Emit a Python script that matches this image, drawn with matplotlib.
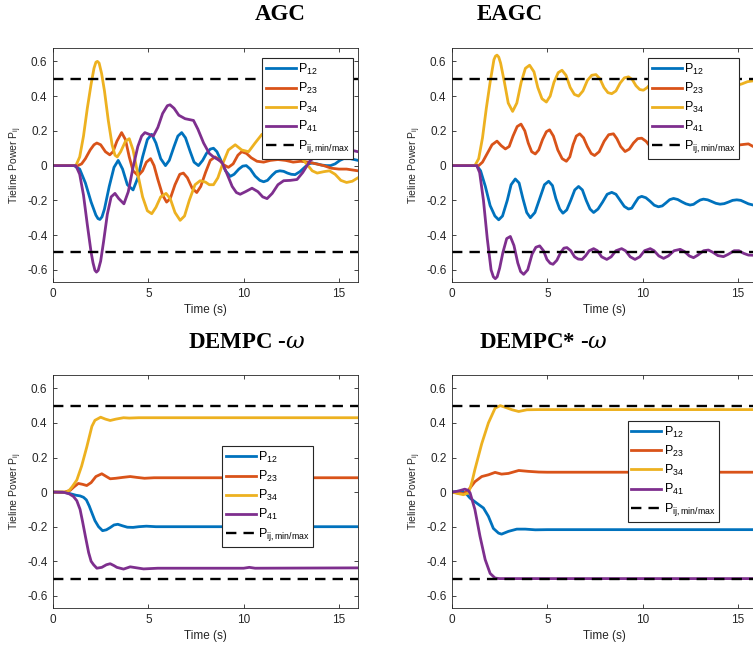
import matplotlib.pyplot as plt

plt.rcParams['font.family'] = ['Liberation Sans', 'DejaVu Sans']
plt.rcParams['axes.unicode_minus'] = False

# MATLAB default colours
colors = ['#0072BD', '#D95319', '#EDB120', '#7E2F8E']
labels = [r'$\mathregular{P_{12}}$', r'$\mathregular{P_{23}}$',
          r'$\mathregular{P_{34}}$', r'$\mathregular{P_{41}}$',
          r'$\mathregular{P_{ij,min/max}}$']
limits = [0.5, -0.5]
yticks = [-0.6, -0.4, -0.2, 0, 0.2, 0.4, 0.6]
ytick_labels = ['-0.6', '-0.4', '-0.2', '0', '0.2', '0.4', '0.6']
xticks = [0, 5, 10, 15]
titles = ['AGC', 'EAGC', r'DEMPC -$\omega$', r'DEMPC* -$\omega$']

# ---- AGC (t, value)
agc_p12 = [(0, 0), (1.1, 0), (1.4, -0.02), (1.7, -0.1), (2.0, -0.21), (2.25, -0.285), (2.36, -0.305),
           (2.46, -0.31), (2.57, -0.295), (2.7, -0.25), (2.95, -0.12), (3.2, -0.01), (3.42, 0.03),
           (3.65, -0.02), (3.9, -0.11), (4.2, -0.14), (4.45, -0.07), (4.7, 0.05), (4.95, 0.15),
           (5.18, 0.18), (5.4, 0.13), (5.65, 0.04), (5.9, 0.0), (6.1, 0.03), (6.35, 0.11), (6.55, 0.17),
           (6.75, 0.19), (6.95, 0.16), (7.2, 0.08), (7.4, 0.02), (7.63, 0.0), (7.85, 0.03), (8.05, 0.07),
           (8.25, 0.095), (8.42, 0.1), (8.6, 0.08), (8.85, 0.02), (9.05, -0.03), (9.3, -0.062),
           (9.5, -0.05), (9.75, -0.02), (9.95, -0.003), (10.14, 0.0), (10.35, -0.02), (10.6, -0.06),
           (10.85, -0.085), (11.05, -0.093), (11.25, -0.085), (11.5, -0.055), (11.7, -0.035),
           (11.9, -0.03), (12.1, -0.033), (12.3, -0.043), (12.5, -0.05), (12.7, -0.052),
           (12.95, -0.035), (13.2, -0.01), (13.4, 0.01), (13.6, 0.015), (13.85, 0.01), (14.1, 0.003),
           (14.35, 0.0), (14.56, 0.0), (14.8, 0.01), (15.05, 0.03), (15.25, 0.04), (15.4, 0.04),
           (15.6, 0.04), (15.8, 0.035), (16, 0.03)]
agc_p23 = [(0, 0), (1.3, 0), (1.5, 0.01), (1.7, 0.04), (1.95, 0.09), (2.15, 0.12), (2.3, 0.13),
           (2.5, 0.12), (2.75, 0.08), (2.98, 0.062), (3.15, 0.08), (3.35, 0.14), (3.6, 0.19),
           (3.8, 0.15), (4.0, 0.05), (4.2, -0.03), (4.47, -0.058), (4.7, -0.03), (4.9, 0.02),
           (5.12, 0.04), (5.3, 0.0), (5.5, -0.08), (5.75, -0.17), (5.96, -0.21), (6.15, -0.19),
           (6.4, -0.11), (6.65, -0.05), (6.84, -0.043), (7.05, -0.07), (7.3, -0.13), (7.54, -0.155),
           (7.75, -0.12), (8.0, -0.04), (8.25, 0.03), (8.5, 0.05), (8.7, 0.035), (8.95, 0.005),
           (9.2, -0.01), (9.45, 0.01), (9.7, 0.06), (9.9, 0.08), (10.15, 0.07), (10.4, 0.045),
           (10.7, 0.025), (11.05, 0.02), (11.4, 0.03), (11.8, 0.035), (12.2, 0.03), (12.6, 0.02),
           (13.0, 0.025), (13.4, 0.02), (13.8, 0.01), (14.2, 0.0), (14.6, -0.015), (15.0, -0.02),
           (15.4, -0.02), (15.7, -0.025), (16, -0.03)]
agc_p34 = [(0, 0), (1.2, 0), (1.4, 0.05), (1.6, 0.17), (1.8, 0.33), (2.0, 0.47), (2.15, 0.56),
           (2.25, 0.595), (2.33, 0.6), (2.42, 0.59), (2.55, 0.53), (2.7, 0.43), (2.9, 0.26),
           (3.1, 0.12), (3.25, 0.06), (3.37, 0.05), (3.55, 0.08), (3.8, 0.14), (4.0, 0.155),
           (4.2, 0.09), (4.45, -0.05), (4.7, -0.18), (4.95, -0.26), (5.18, -0.277), (5.4, -0.24),
           (5.65, -0.18), (5.93, -0.16), (6.15, -0.19), (6.4, -0.27), (6.67, -0.315), (6.9, -0.29),
           (7.15, -0.2), (7.45, -0.11), (7.72, -0.087), (8.0, -0.095), (8.2, -0.11), (8.42, -0.11),
           (8.65, -0.07), (8.9, 0.01), (9.2, 0.09), (9.56, 0.12), (9.9, 0.09), (10.26, 0.08),
           (10.6, 0.13), (10.96, 0.18), (11.4, 0.2), (12.0, 0.15), (12.6, 0.08), (13.0, 0.05),
           (13.3, 0.01), (13.6, -0.03), (13.86, -0.043), (14.2, -0.035), (14.5, -0.03), (14.8, -0.05),
           (15.1, -0.085), (15.4, -0.097), (15.7, -0.09), (16, -0.07)]
agc_p41 = [(0, 0), (1.2, 0), (1.4, -0.05), (1.6, -0.17), (1.8, -0.34), (2.0, -0.5), (2.1, -0.56),
           (2.2, -0.603), (2.28, -0.613), (2.37, -0.603), (2.5, -0.55), (2.65, -0.44), (2.85, -0.28),
           (3.05, -0.18), (3.25, -0.16), (3.45, -0.19), (3.72, -0.22), (3.95, -0.15), (4.2, -0.01),
           (4.45, 0.11), (4.65, 0.17), (4.82, 0.19), (5.05, 0.18), (5.26, 0.17), (5.5, 0.22),
           (5.75, 0.3), (6.0, 0.345), (6.14, 0.35), (6.35, 0.33), (6.6, 0.29), (6.93, 0.27),
           (7.15, 0.265), (7.37, 0.26), (7.6, 0.21), (7.9, 0.13), (8.2, 0.07), (8.42, 0.05),
           (8.65, 0.035), (8.86, 0.02), (9.1, -0.04), (9.4, -0.12), (9.62, -0.155), (9.82, -0.165),
           (10.1, -0.15), (10.44, -0.13), (10.75, -0.15), (11.0, -0.18), (11.23, -0.19), (11.5, -0.16),
           (11.8, -0.11), (12.1, -0.087), (12.45, -0.085), (12.8, -0.08), (13.1, -0.04), (13.5, 0.03),
           (13.9, 0.06), (14.5, 0.07), (15.0, 0.08), (15.6, 0.09), (16, 0.08)]

# ---- EAGC
eagc_p12 = [(0, 0), (1.3, 0), (1.5, -0.03), (1.75, -0.12), (2.0, -0.23), (2.25, -0.29), (2.45, -0.312),
            (2.65, -0.29), (2.9, -0.2), (3.1, -0.11), (3.32, -0.077), (3.52, -0.1), (3.72, -0.19),
            (3.92, -0.27), (4.11, -0.3), (4.35, -0.27), (4.6, -0.19), (4.85, -0.11), (5.07, -0.09),
            (5.27, -0.115), (5.45, -0.19), (5.65, -0.25), (5.82, -0.274), (6.02, -0.255), (6.23, -0.2),
            (6.44, -0.14), (6.64, -0.12), (6.84, -0.14), (7.04, -0.2), (7.24, -0.25), (7.43, -0.27),
            (7.66, -0.25), (7.9, -0.21), (8.14, -0.165), (8.38, -0.154), (8.6, -0.165), (8.82, -0.2),
            (9.04, -0.235), (9.26, -0.25), (9.43, -0.245), (9.6, -0.215), (9.78, -0.185),
            (9.95, -0.177), (10.17, -0.185), (10.39, -0.205), (10.61, -0.228), (10.83, -0.237),
            (11.03, -0.232), (11.22, -0.215), (11.42, -0.196), (11.62, -0.189), (11.84, -0.195),
            (12.05, -0.208), (12.27, -0.22), (12.49, -0.227), (12.67, -0.223), (12.84, -0.21),
            (13.02, -0.198), (13.19, -0.193), (13.41, -0.197), (13.63, -0.207), (13.84, -0.217),
            (14.06, -0.222), (14.28, -0.219), (14.5, -0.21), (14.72, -0.2), (14.94, -0.197),
            (15.15, -0.2), (15.35, -0.21), (15.55, -0.22), (15.8, -0.227), (16, -0.225)]
eagc_p23 = [(0, 0), (1.4, 0), (1.6, 0.02), (1.85, 0.07), (2.1, 0.12), (2.36, 0.141), (2.58, 0.115),
            (2.8, 0.096), (3.0, 0.11), (3.2, 0.17), (3.42, 0.225), (3.62, 0.239), (3.82, 0.2),
            (4.0, 0.13), (4.18, 0.08), (4.37, 0.067), (4.55, 0.09), (4.75, 0.15), (4.95, 0.195),
            (5.12, 0.206), (5.32, 0.17), (5.55, 0.09), (5.78, 0.04), (6.0, 0.025), (6.18, 0.05),
            (6.35, 0.12), (6.52, 0.17), (6.7, 0.183), (6.9, 0.16), (7.1, 0.11), (7.3, 0.07),
            (7.48, 0.058), (7.72, 0.08), (7.98, 0.14), (8.22, 0.178), (8.47, 0.183), (8.65, 0.155),
            (8.85, 0.11), (9.08, 0.081), (9.3, 0.095), (9.52, 0.13), (9.74, 0.155), (9.95, 0.158),
            (10.18, 0.14), (10.4, 0.11), (10.7, 0.1), (11.0, 0.11), (11.3, 0.135), (11.55, 0.14),
            (11.8, 0.13), (12.1, 0.11), (12.4, 0.105), (12.7, 0.115), (13.0, 0.13), (13.3, 0.128),
            (13.6, 0.115), (13.9, 0.108), (14.2, 0.112), (14.5, 0.122), (14.8, 0.125), (15.0, 0.118),
            (15.3, 0.122), (15.55, 0.125), (15.8, 0.11), (16, 0.105)]
eagc_p34 = [(0, 0), (1.2, 0), (1.4, 0.04), (1.6, 0.16), (1.8, 0.33), (2.0, 0.48), (2.2, 0.61),
            (2.28, 0.63), (2.36, 0.636), (2.45, 0.625), (2.55, 0.59), (2.75, 0.48), (2.95, 0.36),
            (3.18, 0.312), (3.4, 0.36), (3.63, 0.48), (3.85, 0.56), (4.07, 0.578), (4.3, 0.54),
            (4.5, 0.45), (4.72, 0.385), (4.95, 0.366), (5.15, 0.4), (5.35, 0.48), (5.57, 0.535),
            (5.77, 0.549), (5.98, 0.52), (6.2, 0.45), (6.42, 0.41), (6.64, 0.4), (6.87, 0.43),
            (7.1, 0.49), (7.33, 0.52), (7.55, 0.524), (7.76, 0.5), (7.97, 0.45), (8.18, 0.42),
            (8.38, 0.414), (8.6, 0.43), (8.82, 0.475), (9.04, 0.505), (9.26, 0.511), (9.46, 0.495),
            (9.65, 0.46), (9.85, 0.438), (10.04, 0.434), (10.25, 0.45), (10.45, 0.475), (10.65, 0.49),
            (10.85, 0.495), (11.05, 0.485), (11.3, 0.46), (11.55, 0.445), (11.75, 0.445), (12.0, 0.46),
            (12.25, 0.48), (12.5, 0.488), (12.75, 0.48), (13.0, 0.465), (13.25, 0.452), (13.5, 0.452),
            (13.75, 0.465), (14.0, 0.478), (14.25, 0.483), (14.5, 0.475), (14.75, 0.465),
            (14.94, 0.462), (15.2, 0.47), (15.5, 0.483), (15.8, 0.488), (16, 0.485)]
eagc_p41 = [(0, 0), (1.3, 0), (1.45, -0.04), (1.65, -0.2), (1.85, -0.42), (2.05, -0.6), (2.17, -0.64),
            (2.27, -0.651), (2.37, -0.64), (2.5, -0.59), (2.67, -0.5), (2.87, -0.42), (3.06, -0.408),
            (3.25, -0.46), (3.45, -0.56), (3.6, -0.61), (3.76, -0.626), (3.97, -0.6), (4.2, -0.51),
            (4.4, -0.47), (4.6, -0.462), (4.8, -0.49), (4.98, -0.54), (5.15, -0.562), (5.3, -0.568),
            (5.5, -0.545), (5.7, -0.5), (5.87, -0.475), (6.03, -0.472), (6.23, -0.49), (6.43, -0.525),
            (6.62, -0.538), (6.82, -0.54), (7.0, -0.52), (7.2, -0.49), (7.43, -0.478), (7.63, -0.49),
            (7.85, -0.525), (8.12, -0.54), (8.35, -0.525), (8.6, -0.49), (8.9, -0.478), (9.1, -0.49),
            (9.35, -0.525), (9.6, -0.54), (9.85, -0.525), (10.1, -0.49), (10.4, -0.478), (10.6, -0.49),
            (10.85, -0.52), (11.1, -0.534), (11.35, -0.52), (11.65, -0.49), (11.97, -0.482),
            (12.2, -0.495), (12.45, -0.52), (12.67, -0.53), (12.9, -0.515), (13.2, -0.49),
            (13.45, -0.486), (13.7, -0.5), (13.95, -0.518), (14.24, -0.524), (14.5, -0.51),
            (14.8, -0.49), (15.05, -0.49), (15.3, -0.505), (15.55, -0.515), (15.8, -0.516), (16, -0.51)]

# ---- DEMPC -w
dempc_p12 = [(0, 0), (0.5, 0), (0.75, -0.005), (1.0, -0.012), (1.2, -0.018), (1.42, -0.022),
             (1.6, -0.03), (1.75, -0.045), (1.9, -0.08), (2.04, -0.12), (2.2, -0.165), (2.39, -0.2),
             (2.6, -0.223), (2.8, -0.218), (3.0, -0.205), (3.2, -0.19), (3.4, -0.186), (3.65, -0.195),
             (3.9, -0.203), (4.2, -0.204), (4.5, -0.2), (4.9, -0.197), (5.4, -0.2), (16, -0.2)]
dempc_p23 = [(0, 0), (0.6, 0), (0.9, 0.01), (1.1, 0.03), (1.33, 0.05), (1.55, 0.045), (1.77, 0.038),
             (2.0, 0.055), (2.25, 0.09), (2.56, 0.106), (2.8, 0.09), (3.0, 0.077), (3.3, 0.08),
             (3.65, 0.085), (4.05, 0.09), (4.4, 0.085), (4.8, 0.08), (5.3, 0.083), (16, 0.083)]
dempc_p34 = [(0, 0), (0.7, 0), (0.85, 0.01), (1.0, 0.03), (1.25, 0.07), (1.5, 0.15), (1.77, 0.26),
             (2.04, 0.38), (2.2, 0.415), (2.5, 0.433), (2.75, 0.422), (3.0, 0.414), (3.3, 0.422),
             (3.7, 0.43), (4.0, 0.428), (4.5, 0.43), (16, 0.43)]
dempc_p41 = [(0, 0), (0.6, -0.002), (0.85, -0.01), (1.07, -0.025), (1.25, -0.05), (1.42, -0.1),
             (1.55, -0.17), (1.7, -0.256), (1.87, -0.35), (2.0, -0.4), (2.13, -0.42), (2.3, -0.44),
             (2.56, -0.435), (2.8, -0.42), (3.0, -0.414), (3.2, -0.425), (3.35, -0.435), (3.7, -0.445),
             (4.05, -0.432), (4.4, -0.438), (4.75, -0.444), (5.5, -0.44), (10.0, -0.44),
             (10.3, -0.435), (10.6, -0.44), (16, -0.438)]

# ---- DEMPC* -w
dempcs_p12 = [(0, 0), (0.3, 0.005), (0.55, 0.005), (0.75, -0.01), (0.95, -0.035), (1.3, -0.064),
              (1.65, -0.092), (1.91, -0.14), (2.17, -0.21), (2.44, -0.237), (2.6, -0.243),
              (2.96, -0.227), (3.4, -0.214), (3.84, -0.214), (4.37, -0.218), (5, -0.217), (16, -0.217)]
dempcs_p23 = [(0, 0), (0.3, -0.005), (0.6, -0.01), (0.87, 0.013), (1.2, 0.06), (1.56, 0.09),
              (1.91, 0.1), (2.26, 0.114), (2.6, 0.104), (2.96, 0.108), (3.5, 0.125), (4.0, 0.12),
              (4.55, 0.116), (5.0, 0.115), (16, 0.115)]
dempcs_p34 = [(0, 0), (0.3, -0.008), (0.6, -0.015), (0.87, -0.005), (1.05, 0.06), (1.2, 0.13),
              (1.56, 0.28), (1.91, 0.4), (2.26, 0.485), (2.53, 0.5), (2.8, 0.49), (3.15, 0.476),
              (3.5, 0.466), (3.93, 0.476), (4.5, 0.477), (16, 0.477)]
dempcs_p41 = [(0, 0), (0.3, 0.005), (0.67, 0.017), (0.85, 0.01), (0.95, -0.005), (1.2, -0.1),
              (1.47, -0.256), (1.74, -0.39), (2.0, -0.47), (2.26, -0.497), (2.5, -0.5), (16, -0.5)]

panels = [
    [agc_p12, agc_p23, agc_p34, agc_p41],
    [eagc_p12, eagc_p23, eagc_p34, eagc_p41],
    [dempc_p12, dempc_p23, dempc_p34, dempc_p41],
    [dempcs_p12, dempcs_p23, dempcs_p34, dempcs_p41],
]

W, H = 753, 653
fig = plt.figure(figsize=(W / 100, H / 100), dpi=100)

# axes boxes in pixels: left, top, width, height
boxes = [(53, 48, 305, 234), (452, 48, 305, 234), (53, 375, 305, 233), (452, 375, 305, 233)]
legend_anchor = [(0.685, 0.957), (0.642, 0.957), (0.554, 0.695), (0.576, 0.803)]
title_pos = [(280, 15), (510, 15), (247, 343), (543, 343)]

grey = '#262626'
for i, series in enumerate(panels):
    l, t, w, h = boxes[i]
    ax = fig.add_axes([l / W, (H - t - h) / H, w / W, h / H])
    handles = []
    for s, c in zip(series, colors):
        x, y = zip(*s)
        ln, = ax.plot(x, y, color=c, lw=2.0)
        handles.append(ln)
    for lim in limits:
        ln = ax.axhline(lim, color='black', lw=1.7, linestyle=(0, (4.4, 3.0)))
    handles.append(ln)
    ax.set_xlim(0, 16)
    ax.set_ylim(-0.67, 0.677)
    ax.set_xticks(xticks)
    ax.set_yticks(yticks)
    ax.set_yticklabels(ytick_labels)
    ax.tick_params(direction='in', top=True, right=True, length=3, width=0.6,
                   labelsize=8.5, colors=grey, pad=4)
    for sp in ax.spines.values():
        sp.set_color(grey)
        sp.set_linewidth(0.6)
    ax.set_xlabel('Time (s)', fontsize=8.5, color=grey, labelpad=3)
    ax.set_ylabel(r'Tieline Power P$\mathregular{_{ij}}$', fontsize=7.5, color=grey, labelpad=2)
    leg = ax.legend(handles, labels, loc='upper left', bbox_to_anchor=legend_anchor[i],
                    borderaxespad=0, fontsize=9, handlelength=2.4, handletextpad=0.2,
                    labelspacing=0.32, borderpad=0.3, fancybox=False, framealpha=1)
    leg.get_frame().set_edgecolor(grey)
    leg.get_frame().set_linewidth(0.8)
    tx, ty = title_pos[i]
    fig.text(tx / W, 1 - ty / H, titles[i], ha='center', va='center', fontsize=16.5,
             fontweight='bold', family='Liberation Serif', math_fontfamily='dejavuserif')

fig.savefig('out.png', dpi=100)
